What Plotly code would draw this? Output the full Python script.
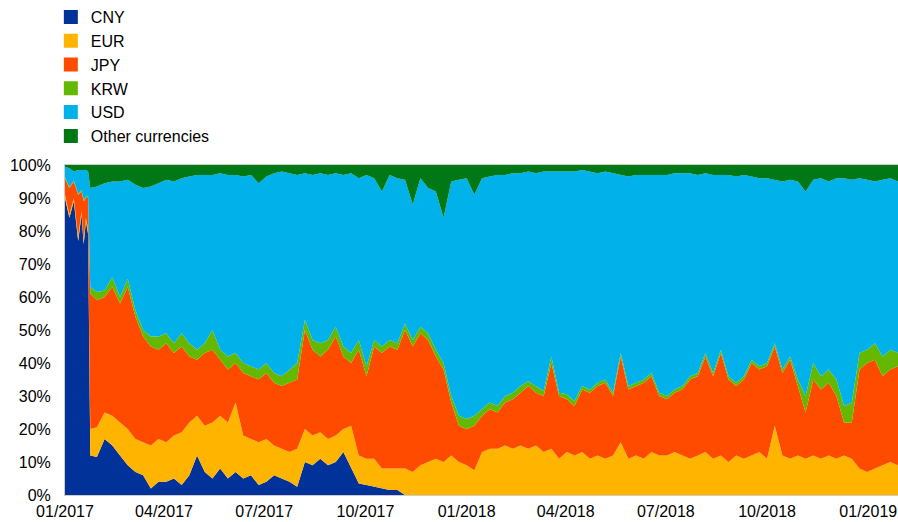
import pandas as pd
import plotly.graph_objects as go

# ---- categories (dates) ----
early_dates = ["2017-01-01", "2017-01-05", "2017-01-09", "2017-01-13", "2017-01-16",
               "2017-01-18", "2017-01-20", "2017-01-22", "2017-01-24"]
weekly_dates = [d.strftime("%Y-%m-%d") for d in pd.date_range("2017-01-30", "2019-01-28", freq="7D")]
dates = early_dates + weekly_dates

# ---- series values (% of total) ----
cny = ([90, 84, 89, 77, 85, 76, 83, 79, 12] +
       [11.5, 17, 15, 12, 9, 7, 6, 2, 4, 4,
        5, 3, 6, 12, 7, 5, 8, 5, 7, 5,
        6, 3, 4, 6, 5, 4, 2.5, 10, 9, 11,
        9, 10, 13, 8, 3.5, 3, 2.5, 2, 1.5, 1.5] +
       [0] * 65)

eur = ([1, 1, 1, 1.5, 1, 1.5, 1, 1.5, 8] +
       [9, 8, 9, 10, 11, 10, 10, 13, 13, 12,
        13, 16, 16, 12, 14, 17, 16, 17, 21, 13,
        11, 13, 13, 9, 9, 9, 11.5, 10, 9, 8,
        8, 8, 7, 13, 8.5, 8, 8.5, 6, 6.5, 6.5,
        8, 7, 9, 10, 11, 10, 12, 10, 9, 7.5,
        13, 14, 14, 15, 14, 15, 14, 15, 13, 14,
        11, 13, 12, 13, 11, 12, 11, 12, 16, 11,
        12, 11, 13, 12, 12, 13, 12, 11, 12, 13,
        11, 12, 10, 12, 11, 12, 13, 11, 21, 12,
        11, 12, 11, 12, 11, 12, 11, 12, 11, 8,
        7, 8, 9, 10, 9])

jpy = ([5, 8, 5, 12.5, 6, 11.5, 6, 9.5, 41] +
       [38.5, 35, 39, 36, 43, 37, 32, 30, 27, 30,
        25, 26, 20, 17, 22, 22, 17, 16, 12, 19,
        19, 19, 20, 19, 19, 21, 21, 30, 26, 23,
        27, 30, 22, 19, 32, 25, 34, 35, 37, 36,
        42, 38, 40, 37, 31, 28, 16, 11, 11, 13.5,
        11, 12, 11, 13, 15, 16, 19, 16, 17, 26,
        19, 16, 15, 19, 20, 21, 23, 18, 26, 21,
        21, 23, 23, 18, 17, 18, 20, 24, 24, 29,
        25, 31, 25, 21, 24, 28, 25, 28, 24, 25,
        30, 21, 14, 23, 21, 22, 19, 10, 11, 30,
        33, 33, 27, 28, 30])

krw = ([0.3, 0.3, 0.3, 0.3, 0.4, 0.4, 0.4, 0.5, 2] +
       [2.5, 2, 3, 2, 2.5, 2, 2, 3, 4, 3,
        3, 4, 4, 3, 3, 6, 3, 4, 3, 3,
        3, 3, 3, 3, 3, 4, 5, 3, 3, 4,
        3, 3, 3, 3, 3, 3, 2, 2, 2, 2,
        2, 2, 2, 2, 2, 2, 2, 3, 3, 3,
        2, 2, 2, 2, 2, 2, 1.5, 2, 1.5, 2,
        1, 1.5, 1.5, 1, 1, 1, 1, 1, 1, 1,
        1, 1, 1, 1, 1, 1, 1, 1, 1, 1,
        1, 1, 1, 1, 1, 1, 1, 1, 1, 1,
        1, 2, 5, 5, 4, 4, 5, 5, 6, 5,
        4, 5, 6, 6, 4])

usd = ([3.2, 5.7, 2.7, 7.2, 6.1, 9.1, 8.1, 7.5, 30] +
       [32, 32.5, 29, 35, 30, 38, 43, 45.5, 46.5, 46.5,
        49, 47, 50.5, 53, 51, 47, 53.5, 55, 54, 56.5,
        58, 56.5, 56.5, 60.5, 62, 59.5, 57, 44.5, 50, 51.5,
        50, 46.5, 52, 54.5, 49, 58, 49, 47, 50, 50,
        43.5, 41, 45, 44, 48, 44, 65, 71.5, 73, 67,
        70, 68.5, 70, 67, 66.5, 64.5, 63.5, 64.5, 66.5, 56,
        67, 67.5, 69.5, 65.5, 66, 63.5, 63, 66.5, 54, 63.5,
        63, 62, 60, 66, 67, 65.5, 64.5, 61.5, 60, 54.5,
        60, 53, 61, 62.5, 61, 55.5, 57, 56, 49.5, 57,
        53.5, 60, 62, 55.5, 60, 57, 61, 69, 67.5, 53,
        51.5, 49, 53.5, 52, 52])

other = ([0.5, 1, 2, 1.5, 1.5, 1.5, 1.5, 2, 7] +
         [6.5, 5.5, 5, 5, 4.5, 6, 7, 6.5, 5.5, 4.5,
          5, 4, 3.5, 3, 3, 3, 2.5, 3, 3, 3.5,
          3, 5.5, 3.5, 2.5, 2, 2.5, 3, 2.5, 3, 2.5,
          3, 2.5, 3, 2.5, 4, 3, 4, 8, 3, 4,
          4.5, 12, 4, 7, 8, 16, 5, 4.5, 4, 9,
          4, 3.5, 3, 3, 2.5, 2.5, 2, 2.5, 2, 2,
          2, 2, 2, 1.5, 2, 2.5, 2, 2.5, 3, 3.5,
          3, 3, 3, 3, 3, 2.5, 2.5, 2.5, 3, 2.5,
          3, 3, 3, 3.5, 3, 3.5, 4, 4, 4.5, 5,
          4.5, 5, 8, 4.5, 4, 5, 4, 4, 4.5, 4,
          4.5, 5, 4.5, 4, 5])

series_names = ["CNY", "EUR", "JPY", "KRW", "USD", "Other currencies"]
series_values = [cny, eur, jpy, krw, usd, other]
colors = ["#003299", "#FFB400", "#FF4B00", "#65B800", "#00B1EA", "#007816"]

fig = go.Figure()
for name, vals, col in zip(series_names, series_values, colors):
    fig.add_trace(go.Scatter(
        x=dates, y=vals, name=name, mode="lines", stackgroup="one",
        groupnorm="percent" if name == "CNY" else None,
        line=dict(width=0, color=col), fillcolor=col,
        showlegend=False, hoverinfo="skip"))
# legend entries (square swatches)
for name, col in zip(series_names, colors):
    fig.add_trace(go.Scatter(
        x=[None], y=[None], name=name, mode="markers",
        marker=dict(symbol="square", size=14, color=col),
        showlegend=True))

fig.update_layout(
    width=898, height=522,
    margin=dict(l=65, r=0, t=165, b=27),
    paper_bgcolor="white", plot_bgcolor="white",
    font=dict(family="Liberation Sans, Arial, sans-serif", size=16, color="#000000"),
    legend=dict(x=-0.017, y=1.5, xanchor="left", yanchor="top",
                bgcolor="rgba(0,0,0,0)", font=dict(size=16),
                tracegroupgap=0, traceorder="normal"),
    xaxis=dict(type="date", range=[dates[0], dates[-1]],
               tick0="2017-01-01", dtick="M3", tickformat="%m/%Y",
               showgrid=False, zeroline=False, ticks="",
               showline=True, linecolor="#cccccc", linewidth=1, mirror=True,
               ticklabelstandoff=2),
    yaxis=dict(range=[0, 100], dtick=10, ticksuffix="%",
               showgrid=False, zeroline=False, ticks="",
               showline=True, linecolor="#cccccc", linewidth=1, mirror=True,
               ticklabelstandoff=10),
)

fig.write_html("out.html", config={"displayModeBar": False},
               post_script="document.body.style.margin='0';")
